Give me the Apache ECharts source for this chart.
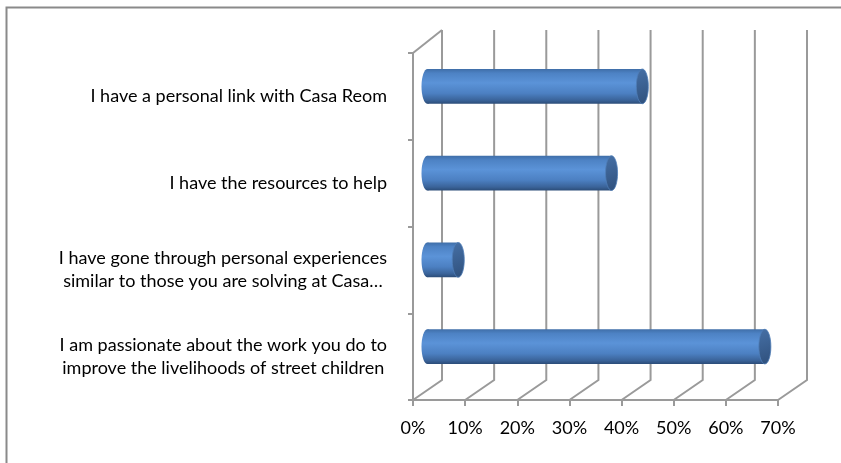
<!DOCTYPE html>
<html>
<head>
<meta charset="utf-8">
<script src="https://cdn.jsdelivr.net/npm/echarts@6/dist/echarts.min.js"></script>
<style>
  html, body { margin: 0; padding: 0; background: #fff; }
  #chart { width: 841px; height: 463px; }
</style>
</head>
<body>
<div id="chart"></div>
<script>
// categories, top to bottom
const categories = [
  'I have a personal link with Casa Reom',
  'I have the resources to help',
  'I have gone through personal experiences\nsimilar to those you are solving at Casa…',
  'I am passionate about the work you do to\nimprove the livelihoods of street children'
]
// share of respondents
const values = [0.412, 0.353, 0.059, 0.647]
// value axis ticks
const xTicks = [0, 0.1, 0.2, 0.3, 0.4, 0.5, 0.6, 0.7]

const FONT = 'Lato'
const LINE = '#9a9a9a'
// depth of the fake 3d box
const DX = 29
const DY = 20
const TOP_DY = 23

const chart = echarts.init(document.getElementById('chart'))

// back wall gridlines + floor diagonals
const renderFrame = (params, api) => {
  const cs = params.coordSys
  const x = api.coord([api.value(0), 0])[0]
  const yb = cs.y + cs.height
  const children = [{
    type: 'polyline',
    shape: { points: [[x, yb], [x + DX, yb - DY], [x + DX, cs.y - TOP_DY]] },
    style: { stroke: LINE, lineWidth: 2, fill: null }
  }]
  if (params.dataIndex === 0) {
    children.push({
      type: 'line',
      shape: { x1: cs.x, y1: cs.y, x2: cs.x + DX, y2: cs.y - TOP_DY },
      style: { stroke: LINE, lineWidth: 2 }
    })
  }
  return { type: 'group', children }
}

const bodyFill = new echarts.graphic.LinearGradient(0, 0, 0, 1, [
  { offset: 0, color: '#3f6ea8' },
  { offset: 0.12, color: '#4d82c4' },
  { offset: 0.4, color: '#5b93d8' },
  { offset: 0.7, color: '#4c80c2' },
  { offset: 0.9, color: '#3a6399' },
  { offset: 1, color: '#2b4c78' }
])
const capFill = new echarts.graphic.LinearGradient(0, 0, 1, 1, [
  { offset: 0, color: '#4670a6' },
  { offset: 1, color: '#2f507c' }
])

// cylinders
const renderBar = (params, api) => {
  const i = api.value(1)
  const start = api.coord([0, i])
  const end = api.coord([api.value(0), i])
  const band = api.size([0, 1])[1]
  const ry = band * 0.2
  const rx = 6
  const cy = start[1] - DY / 2
  const x0 = start[0] + DX / 2
  const x1 = end[0] + DX / 2
  return {
    type: 'group',
    children: [
      { type: 'ellipse', shape: { cx: x0, cy, rx, ry }, style: { fill: bodyFill } },
      { type: 'rect', shape: { x: x0, y: cy - ry, width: x1 - x0, height: ry * 2 }, style: { fill: bodyFill } },
      { type: 'ellipse', shape: { cx: x1, cy, rx, ry }, style: { fill: capFill, stroke: '#4f7db8', lineWidth: 0.8 } }
    ]
  }
}

const option = {
  animation: false,
  graphic: [{
    type: 'rect',
    left: 4, top: 5,
    shape: { width: 900, height: 500 },
    style: { fill: null, stroke: '#8a8a8a', lineWidth: 2 },
    silent: true
  }],
  grid: { left: 413, right: 63, top: 53, bottom: 63 },
  xAxis: {
    type: 'value',
    min: 0,
    max: 0.7,
    interval: 0.1,
    axisLine: { show: true, lineStyle: { color: LINE, width: 2 } },
    axisTick: { show: true, length: 6, lineStyle: { color: LINE, width: 2 } },
    splitLine: { show: false },
    axisLabel: {
      margin: 19,
      color: '#000',
      fontFamily: FONT,
      fontSize: 18,
      formatter: v => Math.round(v * 100) + '%'
    }
  },
  yAxis: {
    type: 'category',
    inverse: true,
    data: categories,
    axisLine: { show: true, lineStyle: { color: LINE, width: 2 } },
    axisTick: { show: true, length: 5, lineStyle: { color: LINE, width: 2 } },
    axisLabel: {
      margin: 26,
      formatter: v => v.split('\n').map(s => '{c|' + s + '}').join('\n'),
      rich: {
        c: { align: 'center', color: '#000', fontFamily: FONT, fontSize: 18, lineHeight: 23 }
      }
    }
  },
  series: [
    {
      type: 'custom',
      clip: false,
      silent: true,
      z: 1,
      data: xTicks.map(v => [v]),
      encode: { x: 0 },
      renderItem: renderFrame
    },
    {
      type: 'custom',
      clip: false,
      z: 5,
      data: values.map((v, i) => [v, i]),
      encode: { x: 0, y: 1 },
      renderItem: renderBar
    }
  ]
}

chart.setOption(option)
</script>
</body>
</html>
